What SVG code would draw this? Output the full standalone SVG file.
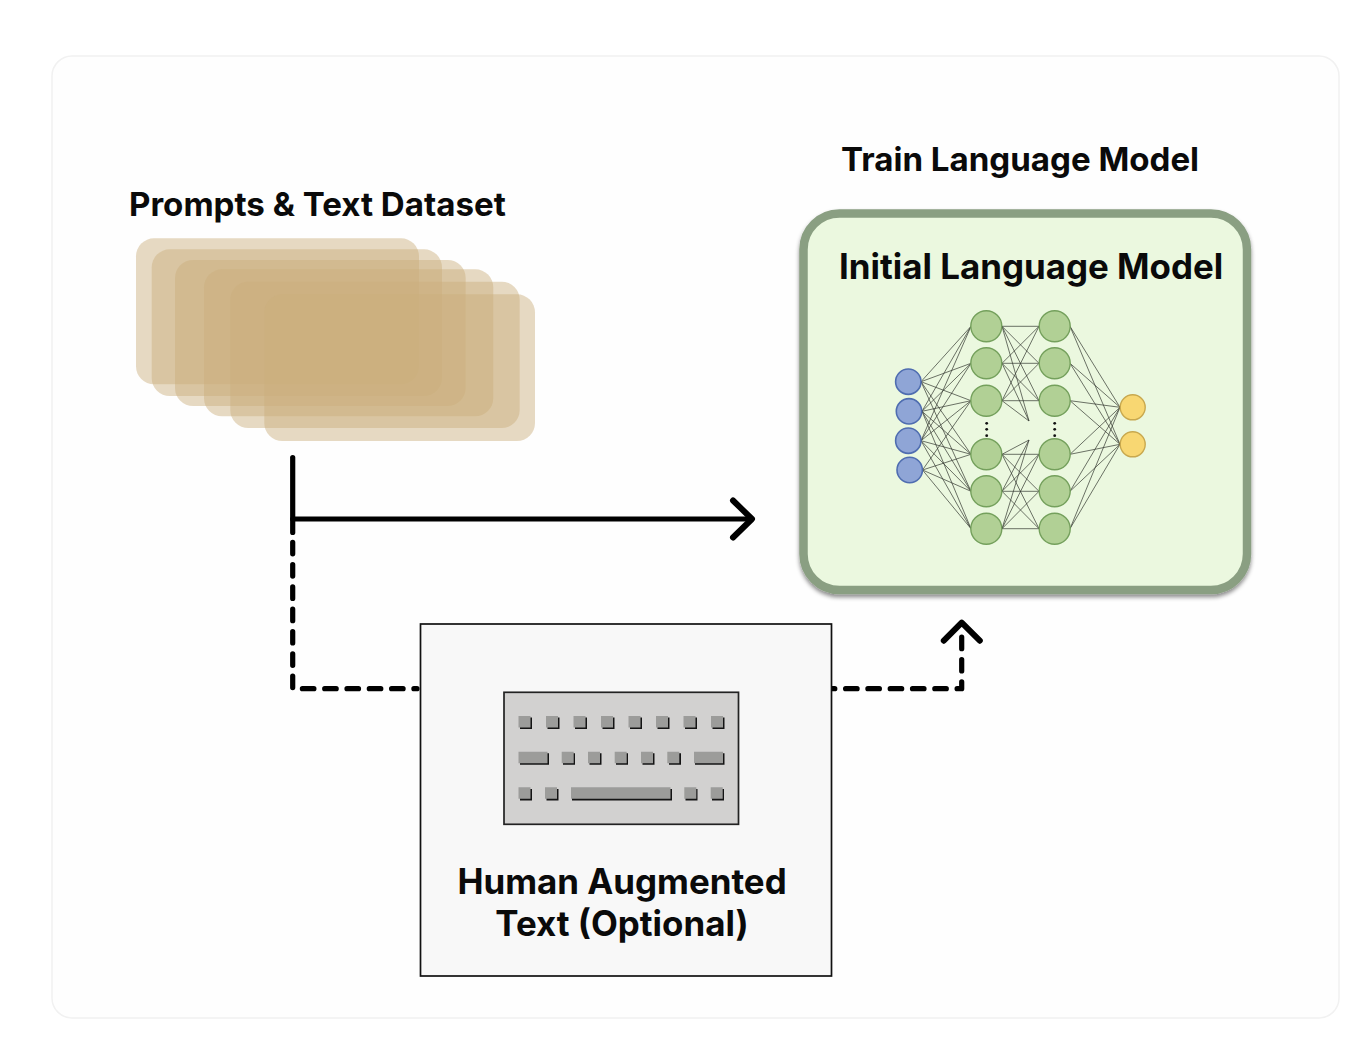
<svg xmlns="http://www.w3.org/2000/svg" width="1354" height="1062" viewBox="0 0 1354 1062">
<style>
.t{font-family:Inter,"Liberation Sans",sans-serif;font-weight:700;font-size:33.100px;fill:#0a0a0a}
.b{font-size:34.900px}
.s{fill:#cbae7c;fill-opacity:.46}
.c{fill:none;stroke:#000;stroke-width:5.200;stroke-linecap:round;stroke-linejoin:round}
.a{stroke-width:6}
.d{stroke-dasharray:11.5 10.8}
.e{stroke:#333830;stroke-width:1;stroke-opacity:.7;fill:none}
.h{fill:#b1d095;stroke:#74a05c;stroke-width:1.4}
.i{fill:#8fa5d6;stroke:#4f6db0;stroke-width:1.6}
.o{fill:#f8d772;stroke:#c8a84e;stroke-width:1.4}
.k{fill:#9c9c9a}
.ks{fill:#141414}
.p{fill:#111}
</style>
<defs>
<filter id="sh" x="-5%" y="-5%" width="110%" height="110%"><feDropShadow dx="0" dy="3" stdDeviation="2" flood-color="#000" flood-opacity=".45"/></filter>
</defs>
<rect width="1354" height="1062" fill="#fff"/>
<rect id="frame" x="52" y="56" width="1287" height="962" rx="20" fill="#fefefe" stroke="#f1f1f1" stroke-width="1.5"/>

<g id="dataset">
<text class="t" x="129" y="215.800">Prompts &amp; Text Dataset</text>
<rect class="s" x="136" y="238.300" width="283" height="146" rx="18"/>
<rect class="s" x="151.700" y="249.300" width="290.300" height="146.700" rx="18"/>
<rect class="s" x="175" y="260" width="290.700" height="146" rx="18"/>
<rect class="s" x="204" y="269.300" width="289.300" height="147" rx="18"/>
<rect class="s" x="230.300" y="281.700" width="289.400" height="146.300" rx="18"/>
<rect class="s" x="264.300" y="294.300" width="270.700" height="146.700" rx="18"/>
</g>

<g id="connectors">
<path class="c" d="M292.700 457.500V532.500"/>
<path class="c" d="M292.700 519H750"/>
<path class="c a" d="M733 500.500l19 18.500-19 18.500"/>
<path class="c d" d="M292.700 542.300V688.700H417"/>
<path class="c d" d="M823.300 688.700H961.700V628"/>
<path class="c a" d="M943.800 640.700L961.700 622.700 979.800 640.700"/>
</g>

<g id="model">
<text class="t" x="841" y="171.300">Train Language Model</text>
<rect x="803.500" y="213.500" width="443.500" height="376.500" rx="36" fill="#ebf8df" stroke="#8a9f82" stroke-width="8.500" filter="url(#sh)"/>
<text class="t b" x="839" y="278.500">Initial Language Model</text>
</g>

<g id="network">
<path class="e" d="M921 381.700L971 326.300M921 381.700L971 363.300M921 381.700L971 400.700M921 381.700L971 454.300M921 381.700L971 491.300
M922 411.300L971 326.300M922 411.300L971 363.300M922 411.300L971 400.700M922 411.300L971 454.300M922 411.300L971 491.300M922 411.300L971 528.700
M921 440.700L971 326.300M921 440.700L971 363.300M921 440.700L971 400.700M921 440.700L971 454.300M921 440.700L971 491.300M921 440.700L971 528.700
M922.500 470L971 400.700M922.500 470L971 454.300M922.500 470L971 491.300M922.500 470L971 528.700
M1002 326.300H1039M1002 326.300L1039 363.300M1002 326.300L1039 400.700M1002 326.300L1029 421
M1002 363.300L1039 326.300M1002 363.300H1039M1002 363.300L1039 400.700M1002 363.300L1029 421
M1002 400.700L1039 326.300M1002 400.700L1039 363.300M1002 400.700H1039M1002 400.700L1029 421
M1002 454.300L1029 440M1002 454.300H1039M1002 454.300L1039 491.300M1002 454.300L1039 528.700
M1002 491.300L1029 440M1002 491.300L1039 454.300M1002 491.300H1039M1002 491.300L1039 528.700
M1002 528.700L1029 440M1002 528.700L1039 454.300M1002 528.700L1039 491.300M1002 528.700H1039
M1070 326.300L1120 407.300M1070 326.300L1120 444.300M1070 363.300L1120 407.300M1070 363.300L1120 444.300M1070 400.700L1120 407.300M1070 400.700L1120 444.300
M1070 454.300L1120 407.300M1070 454.300L1120 444.300M1070 491.300L1120 407.300M1070 491.300L1120 444.300M1070 528.700L1120 407.300M1070 528.700L1120 444.300"/>
<circle class="i" cx="908.300" cy="381.700" r="12.700"/><circle class="i" cx="909" cy="411.300" r="12.700"/><circle class="i" cx="908.300" cy="440.700" r="12.700"/><circle class="i" cx="909.700" cy="470" r="12.700"/>
<circle class="h" cx="986.300" cy="326.300" r="15.500"/><circle class="h" cx="986.300" cy="363.300" r="15.500"/><circle class="h" cx="986.300" cy="400.700" r="15.500"/><circle class="h" cx="986.300" cy="454.300" r="15.500"/><circle class="h" cx="986.300" cy="491.300" r="15.500"/><circle class="h" cx="986.300" cy="528.700" r="15.500"/>
<circle class="h" cx="1054.700" cy="326.300" r="15.500"/><circle class="h" cx="1054.700" cy="363.300" r="15.500"/><circle class="h" cx="1054.700" cy="400.700" r="15.500"/><circle class="h" cx="1054.700" cy="454.300" r="15.500"/><circle class="h" cx="1054.700" cy="491.300" r="15.500"/><circle class="h" cx="1054.700" cy="528.700" r="15.500"/>
<circle class="o" cx="1132.700" cy="407.300" r="12.500"/><circle class="o" cx="1132.700" cy="444.300" r="12.500"/>
<circle class="p" cx="986.700" cy="423.300" r="1.400"/><circle class="p" cx="986.700" cy="429.300" r="1.400"/><circle class="p" cx="986.700" cy="435.700" r="1.400"/>
<circle class="p" cx="1054.700" cy="423.300" r="1.400"/><circle class="p" cx="1054.700" cy="429.300" r="1.400"/><circle class="p" cx="1054.700" cy="435.700" r="1.400"/>
</g>

<g id="human">
<rect x="420.500" y="624" width="411" height="352" fill="#f8f8f8" stroke="#111" stroke-width="1.700"/>
<rect x="504" y="692.300" width="234.500" height="132" fill="#d2d1d0" stroke="#222" stroke-width="1.700"/>
<g id="keys">
<path class="ks" d="M520 717.500h12v11.500h-12zM547.500 717.500h12v11.500h-12zM575 717.500h12v11.500h-12zM602.500 717.500h12v11.500h-12zM630 717.500h12v11.500h-12zM657.500 717.500h12v11.500h-12zM685 717.500h12v11.500h-12zM712.500 717.500h12v11.500h-12z
M520 753.200h29v11.500h-29zM563 753.200h12v11.500h-12zM589.500 753.200h12v11.500h-12zM616 753.200h12v11.500h-12zM642.500 753.200h12v11.500h-12zM669 753.200h12v11.500h-12zM695 753.200h29.500v11.500h-29.500z
M520 789h12v11.500h-12zM546.500 789h12v11.500h-12zM572 789h100v11.500h-100zM685.500 789h12v11.500h-12zM712 789h12v11.500h-12z"/>
<path class="k" d="M518.500 716h12v11.500h-12zM546 716h12v11.500h-12zM573.500 716h12v11.500h-12zM601 716h12v11.500h-12zM628.500 716h12v11.500h-12zM656 716h12v11.500h-12zM683.500 716h12v11.500h-12zM711 716h12v11.500h-12z
M518.500 751.700h29v11.500h-29zM561.700 751.700h12v11.500h-12zM588 751.700h12v11.500h-12zM614.700 751.700h12v11.500h-12zM641 751.700h12v11.500h-12zM667.300 751.700h12v11.500h-12zM694 751.700h29v11.500h-29z
M518.500 787.300h12v11.500h-12zM545 787.300h12v11.500h-12zM571 787.300h99.500v11.500h-99.500zM684.300 787.300h12v11.500h-12zM710.700 787.300h12v11.500h-12z"/>
</g>
<text class="t b" text-anchor="middle" x="622" y="893.500">Human Augmented</text>
<text class="t b" text-anchor="middle" x="622" y="936.300">Text (Optional)</text>
</g>
</svg>
